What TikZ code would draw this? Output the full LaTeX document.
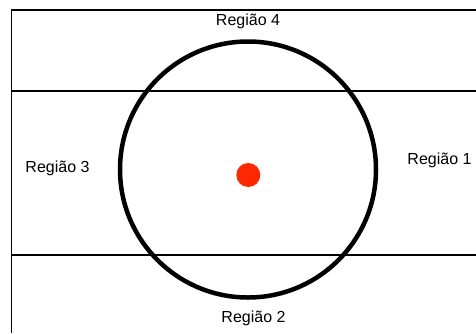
\documentclass[tikz,border=0pt]{standalone}
\usepackage{fontspec}
\setmainfont{Liberation Sans}
\definecolor{dotred}{RGB}{255,40,0}
\begin{document}
\begin{tikzpicture}[x=1pt,y=-1pt,
  thinline/.style={line width=1.3pt,black},
  ring/.style={line width=4.5pt,black},
  lbl/.style={anchor=base,inner sep=0pt,font=\fontsize{16}{19}\selectfont}]
\useasboundingbox (0,0) rectangle (476,333);
\coordinate (tl) at (11.5,10);
\coordinate (tr) at (476,10);
\coordinate (bl) at (11.5,333);
\coordinate (m1l) at (11.5,91);
\coordinate (m1r) at (476,91);
\coordinate (m2l) at (11.5,255);
\coordinate (m2r) at (476,255);
\draw[thinline] (bl) -- (tl) -- (tr);
\draw[thinline] (m1l) -- (m1r);
\draw[thinline] (m2l) -- (m2r);
\draw[ring] (248,169.5) circle (128);
\fill[dotred] (248.3,175) circle (12);
\node[lbl] (r4) at (248,25) {Região 4};
\node[lbl] (r3) at (57.5,172.7) {Região 3};
\node[lbl] (r1) at (439.5,164) {Região 1};
\node[lbl] (r2) at (253.5,322) {Região 2};
\end{tikzpicture}
\end{document}
